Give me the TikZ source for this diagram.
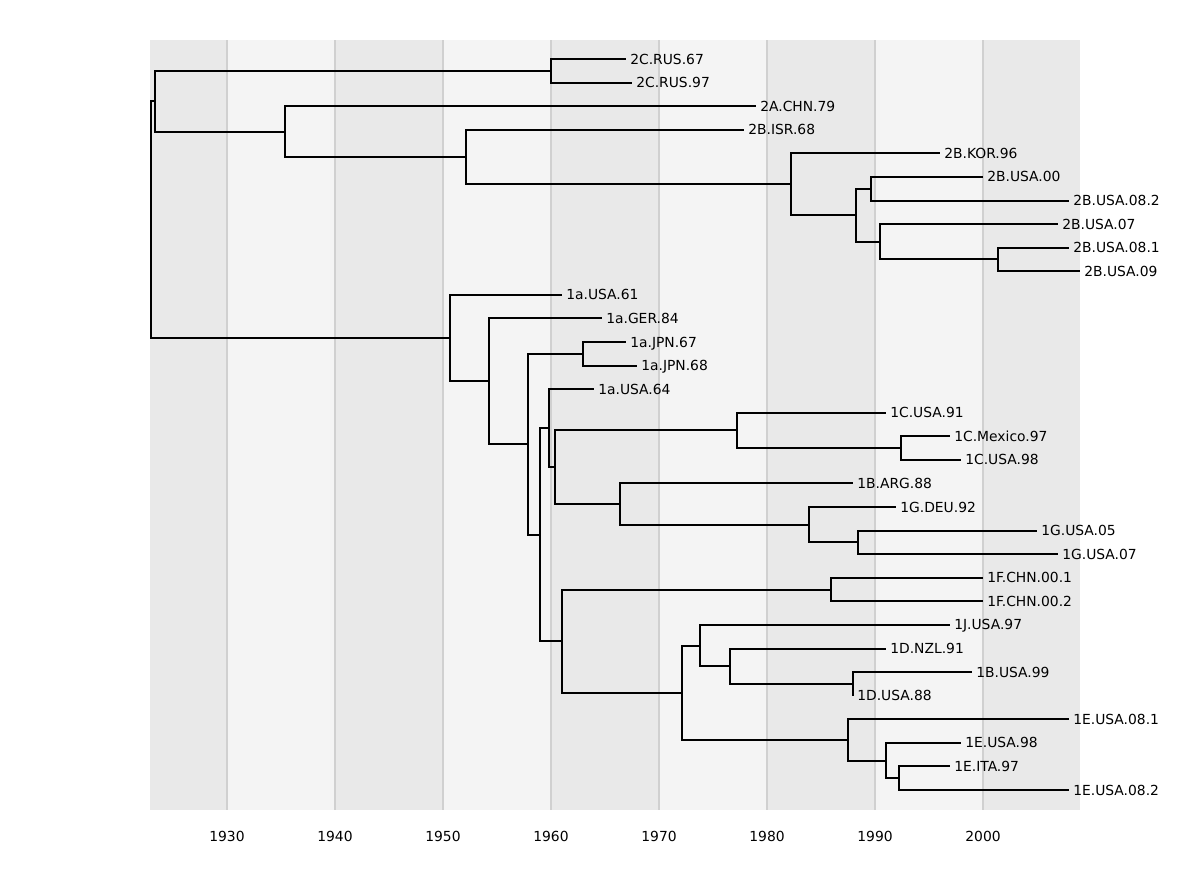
\documentclass[tikz,border=0pt]{standalone}
\usepackage{fontspec}
\setmainfont{DejaVu Sans}
\begin{document}
\begin{tikzpicture}[x=0.75pt,y=-0.75pt,
  tree/.style={line width=1.5pt,black,line join=miter},
  lab/.style={anchor=west,font=\fontsize{10.4pt}{12pt}\selectfont,inner xsep=3pt,inner ysep=0pt,text height=7.6pt,text depth=0pt},
  tick/.style={anchor=center,font=\fontsize{10.4pt}{12pt}\selectfont,inner sep=0pt,text height=7.6pt,text depth=0pt},
  grid/.style={line width=1.1pt,draw={rgb,255:red,208;green,208;blue,208}}]
\definecolor{bdark}{RGB}{233,233,233}
\definecolor{blight}{RGB}{244,244,244}
\useasboundingbox[fill=white] (0,0) rectangle (1200,875);
% bands
\fill[bdark] (150,40) rectangle (227,810);
\fill[blight] (227,40) rectangle (335,810);
\fill[bdark] (335,40) rectangle (443,810);
\fill[blight] (443,40) rectangle (551,810);
\fill[bdark] (551,40) rectangle (659,810);
\fill[blight] (659,40) rectangle (767,810);
\fill[bdark] (767,40) rectangle (875,810);
\fill[blight] (875,40) rectangle (983,810);
\fill[bdark] (983,40) rectangle (1080,810);
\foreach \x/\yr in {227/1930,335/1940,443/1950,551/1960,659/1970,767/1980,875/1990,983/2000}{
  \draw[grid] (\x,40) -- (\x,810);
  \node[tick] (t\yr) at (\x,836) {\yr};
}
% leaves
\node[lab] (l0) at (626,59) {2C.RUS.67};
\node[lab] (l1) at (632,82.6) {2C.RUS.97};
\node[lab] (l2) at (756,106.2) {2A.CHN.79};
\node[lab] (l3) at (744,129.7) {2B.ISR.68};
\node[lab] (l4) at (940,153.3) {2B.KOR.96};
\node[lab] (l5) at (983,176.9) {2B.USA.00};
\node[lab] (l6) at (1069,200.5) {2B.USA.08.2};
\node[lab] (l7) at (1058,224.1) {2B.USA.07};
\node[lab] (l8) at (1069,247.6) {2B.USA.08.1};
\node[lab] (l9) at (1080,271.2) {2B.USA.09};
\node[lab] (l10) at (562,294.8) {1a.USA.61};
\node[lab] (l11) at (602,318.4) {1a.GER.84};
\node[lab] (l12) at (626,342) {1a.JPN.67};
\node[lab] (l13) at (637,365.5) {1a.JPN.68};
\node[lab] (l14) at (594,389.1) {1a.USA.64};
\node[lab] (l15) at (886,412.7) {1C.USA.91};
\node[lab] (l16) at (950,436.3) {1C.Mexico.97};
\node[lab] (l17) at (961,459.9) {1C.USA.98};
\node[lab] (l18) at (853,483.4) {1B.ARG.88};
\node[lab] (l19) at (896,507) {1G.DEU.92};
\node[lab] (l20) at (1037,530.6) {1G.USA.05};
\node[lab] (l21) at (1058,554.2) {1G.USA.07};
\node[lab] (l22) at (983,577.8) {1F.CHN.00.1};
\node[lab] (l23) at (983,601.3) {1F.CHN.00.2};
\node[lab] (l24) at (950,624.9) {1J.USA.97};
\node[lab] (l25) at (886,648.5) {1D.NZL.91};
\node[lab] (l26) at (972,672.1) {1B.USA.99};
\node[lab] (l27) at (853,695.7) {1D.USA.88};
\node[lab] (l28) at (1069,719.2) {1E.USA.08.1};
\node[lab] (l29) at (961,742.8) {1E.USA.98};
\node[lab] (l30) at (950,766.4) {1E.ITA.97};
\node[lab] (l31) at (1069,790) {1E.USA.08.2};
% internal nodes
\coordinate (root) at (151,219.6);
\coordinate (A) at (155,101.2);
\coordinate (nC2) at (551,70.8);
\coordinate (B) at (285,131.6);
\coordinate (C) at (466,157);
\coordinate (D) at (791,184.25);
\coordinate (E) at (856,215.2);
\coordinate (F) at (871,188.7);
\coordinate (G) at (880,241.75);
\coordinate (H) at (998,259.4);
\coordinate (I) at (450,338.05);
\coordinate (J) at (489,381.3);
\coordinate (K) at (528,444.2);
\coordinate (L) at (583,353.75);
\coordinate (M) at (540,534.65);
\coordinate (N) at (549,428.2);
\coordinate (O) at (555,467.2);
\coordinate (P) at (737,430.4);
\coordinate (Q) at (901,448.1);
\coordinate (R) at (620,504.05);
\coordinate (S) at (809,524.7);
\coordinate (T) at (858,542.4);
\coordinate (U) at (562,641.1);
\coordinate (V) at (831,589.55);
\coordinate (W) at (682,692.7);
\coordinate (X) at (700,645.55);
\coordinate (Y) at (730,666.2);
\coordinate (Z) at (853,683.9);
\coordinate (AA) at (848,739.85);
\coordinate (AB) at (886,760.5);
\coordinate (AC) at (899,778.2);
% connectors
\foreach \p/\c in {root/A,root/I,A/nC2,A/B,nC2/l0.west,nC2/l1.west,B/l2.west,B/C,C/l3.west,C/D,D/l4.west,D/E,E/F,E/G,F/l5.west,F/l6.west,G/l7.west,G/H,H/l8.west,H/l9.west,
  I/l10.west,I/J,J/l11.west,J/K,K/L,K/M,L/l12.west,L/l13.west,M/N,M/U,N/l14.west,N/O,O/P,O/R,P/l15.west,P/Q,Q/l16.west,Q/l17.west,R/l18.west,R/S,S/l19.west,S/T,T/l20.west,T/l21.west,
  U/V,U/W,V/l22.west,V/l23.west,W/X,W/AA,X/l24.west,X/Y,Y/l25.west,Y/Z,Z/l26.west,Z/l27.west,AA/l28.west,AA/AB,AB/l29.west,AB/AC,AC/l30.west,AC/l31.west}{
  \draw[tree] (\p) |- (\c);
}
\end{tikzpicture}
\end{document}
